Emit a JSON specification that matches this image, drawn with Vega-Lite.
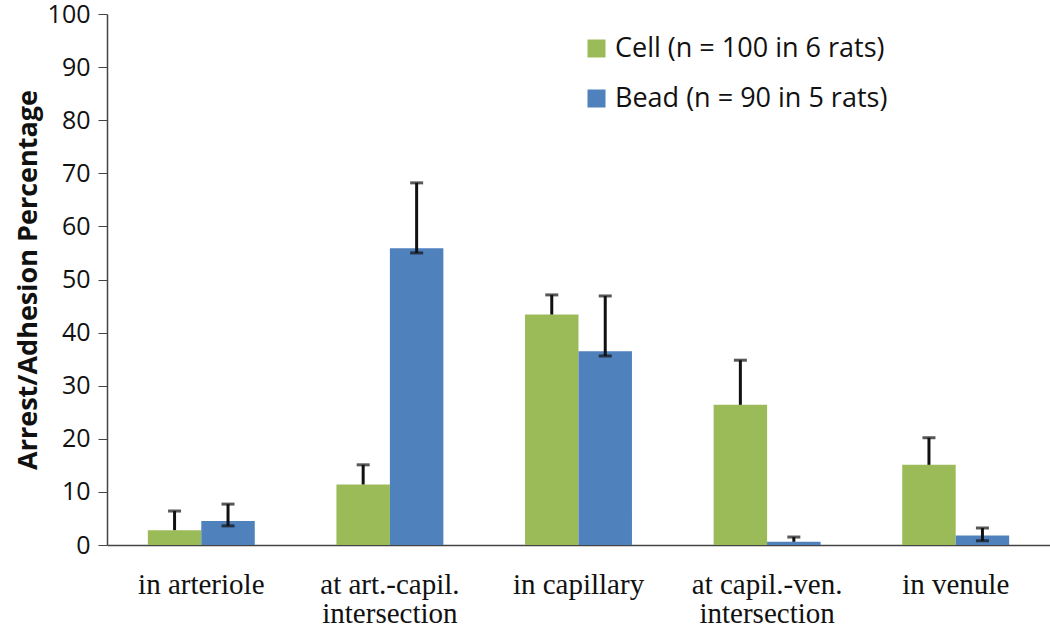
{
  "$schema": "https://vega.github.io/schema/vega-lite/v6.json",
  "width": 943,
  "height": 531,
  "autosize": "none",
  "padding": {"left": 107, "top": 14, "right": 0, "bottom": 82},
  "background": "white",
  "config": {"view": {"stroke": null}},
  "data": {
    "values": [
      {"location": "in arteriole", "series": "Cell (n = 100 in 6 rats)", "value": 2.8, "low": 2.8, "high": 6.4},
      {"location": "in arteriole", "series": "Bead (n = 90 in 5 rats)", "value": 4.5, "low": 3.6, "high": 7.7},
      {"location": "at art.-capil.|intersection", "series": "Cell (n = 100 in 6 rats)", "value": 11.4, "low": 11.4, "high": 15.1},
      {"location": "at art.-capil.|intersection", "series": "Bead (n = 90 in 5 rats)", "value": 55.9, "low": 55.0, "high": 68.2},
      {"location": "in capillary", "series": "Cell (n = 100 in 6 rats)", "value": 43.4, "low": 43.4, "high": 47.1},
      {"location": "in capillary", "series": "Bead (n = 90 in 5 rats)", "value": 36.5, "low": 35.6, "high": 46.9},
      {"location": "at capil.-ven.|intersection", "series": "Cell (n = 100 in 6 rats)", "value": 26.4, "low": 26.4, "high": 34.8},
      {"location": "at capil.-ven.|intersection", "series": "Bead (n = 90 in 5 rats)", "value": 0.6, "low": 0.6, "high": 1.5},
      {"location": "in venule", "series": "Cell (n = 100 in 6 rats)", "value": 15.1, "low": 15.1, "high": 20.2},
      {"location": "in venule", "series": "Bead (n = 90 in 5 rats)", "value": 1.8, "low": 0.8, "high": 3.2}
    ]
  },
  "encoding": {
    "x": {
      "field": "location", "type": "nominal", "sort": null,
      "scale": {"paddingInner": 0.433, "paddingOuter": 0.2165},
      "axis": {
        "title": null, "labelAngle": 0, "ticks": false,
        "labelExpr": "split(datum.label, '|')",
        "labelFont": "Liberation Serif", "labelFontSize": 29, "labelColor": "#111",
        "labelPadding": 25, "labelLineHeight": 29, "labelLimit": 0,
        "domainColor": "#444", "domainWidth": 1.5
      }
    },
    "xOffset": {"field": "series", "type": "nominal", "sort": ["Cell (n = 100 in 6 rats)", "Bead (n = 90 in 5 rats)"]}
  },
  "layer": [
    {
      "mark": {"type": "bar"},
      "encoding": {
        "y": {
          "field": "value", "type": "quantitative",
          "scale": {"domain": [0, 100]},
          "axis": {
            "title": "Arrest/Adhesion Percentage", "titleFont": "Open Sans", "titleFontSize": 27,
            "titleFontWeight": "bold", "titleColor": "#111", "titlePadding": 5,
            "values": [0, 10, 20, 30, 40, 50, 60, 70, 80, 90, 100],
            "grid": false, "labelFont": "Open Sans", "labelFontSize": 25, "labelColor": "#111",
            "tickSize": 9, "tickColor": "#444", "domainColor": "#444", "domainWidth": 1.5, "labelPadding": 8
          }
        },
        "color": {
          "field": "series", "type": "nominal",
          "sort": ["Cell (n = 100 in 6 rats)", "Bead (n = 90 in 5 rats)"],
          "scale": {"domain": ["Cell (n = 100 in 6 rats)", "Bead (n = 90 in 5 rats)"], "range": ["#9BBB59", "#4F81BD"]},
          "legend": {
            "title": null, "orient": "none", "legendX": 476, "legendY": 21,
            "symbolType": "square", "symbolSize": 324, "symbolStrokeWidth": 0,
            "labelFont": "Open Sans", "labelFontSize": 27, "labelColor": "#111", "labelLimit": 0,
            "rowPadding": 22, "labelOffset": 5
          }
        }
      }
    },
    {
      "mark": {"type": "rule", "color": "#111", "strokeWidth": 3},
      "encoding": {
        "y": {"field": "low", "type": "quantitative"},
        "y2": {"field": "high"}
      }
    },
    {
      "mark": {"type": "tick", "color": "#111", "thickness": 3, "size": 13},
      "encoding": {
        "y": {"field": "high", "type": "quantitative"}
      }
    },
    {
      "transform": [{"filter": "datum.series === 'Bead (n = 90 in 5 rats)' && datum.low < datum.value"}],
      "mark": {"type": "tick", "color": "#111", "thickness": 3, "size": 13},
      "encoding": {
        "y": {"field": "low", "type": "quantitative"}
      }
    }
  ]
}
